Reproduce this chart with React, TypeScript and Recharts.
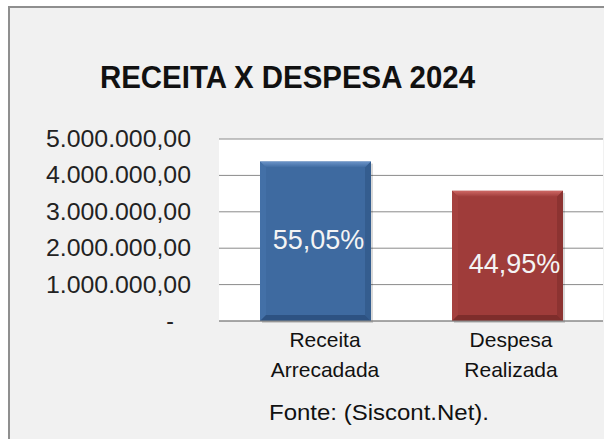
import React from "react";
import { BarChart, Bar, XAxis, YAxis, CartesianGrid } from "recharts";

const categories = ["Receita Arrecadada", "Despesa Realizada"];
const values = [4380000, 3576000];
const percentLabels = ["55,05%", "44,95%"];
const yTicks = [0, 1000000, 2000000, 3000000, 4000000, 5000000];
const yTickLabels = ["-", "1.000.000,00", "2.000.000,00", "3.000.000,00", "4.000.000,00", "5.000.000,00"];
const titleText = "RECEITA X DESPESA 2024";
const sourceText = "Fonte: (Siscont.Net).";

const data = categories.map((name, i) => ({ name, value: values[i], pct: percentLabels[i] }));

const FONT = "'Liberation Sans', Arial, sans-serif";

const palettes = [
  { base: "#3e6aa0", light: "#6a93c8", mid: "#4370a7", dark: "#345d8f", shadow: "#2d5282" },
  { base: "#9f3c3a", light: "#cd6764", mid: "#a5413f", dark: "#8c3331", shadow: "#7e2d2b" },
];
const labelOffsets = [
  { dx: 3, dy: -2 },
  { dx: 7, dy: 7 },
];
const xLabelOffsets = [10, 4];

const BevelBar = (props: any) => {
  const { x, y, width, height, index, payload } = props;
  const p = palettes[index % palettes.length];
  const b = 6;
  const off = labelOffsets[index % labelOffsets.length];
  const gid = `bevtop${index}`;
  return (
    <g>
      <defs>
        <linearGradient id={gid} x1="0" y1="0" x2="0" y2="1">
          <stop offset="0%" stopColor={p.light} />
          <stop offset="100%" stopColor={p.base} />
        </linearGradient>
      </defs>
      <rect x={x + 2} y={y + 2} width={width} height={height} fill="#000" opacity={0.15} />
      <rect x={x} y={y} width={width} height={height} fill={p.base} />
      <polygon points={`${x},${y} ${x + width},${y} ${x + width - b},${y + b} ${x + b},${y + b}`} fill={`url(#${gid})`} />
      <polygon points={`${x},${y} ${x + b},${y + b} ${x + b},${y + height - b} ${x},${y + height}`} fill={p.mid} />
      <polygon points={`${x + width},${y} ${x + width},${y + height} ${x + width - b},${y + height - b} ${x + width - b},${y + b}`} fill={p.dark} />
      <polygon points={`${x},${y + height} ${x + b},${y + height - b} ${x + width - b},${y + height - b} ${x + width},${y + height}`} fill={p.shadow} />
      <text
        x={x + width / 2 + off.dx}
        y={y + height / 2 + off.dy}
        dy="0.36em"
        textAnchor="middle"
        fontFamily={FONT}
        fontSize={27}
        fill="#f4f4f4"
      >
        {payload.pct}
      </text>
    </g>
  );
};

const YTick = (props: any) => {
  const { x, y, payload } = props;
  const idx = yTicks.indexOf(payload.value);
  const label = yTickLabels[idx];
  if (label === "-") {
    return (
      <text x={x - 17} y={y} dy={8} textAnchor="end" fontFamily={FONT} fontSize={23} fill="#222">
        {label}
      </text>
    );
  }
  return (
    <text
      x={x}
      y={y}
      dy={8}
      textAnchor="end"
      fontFamily={FONT}
      fontSize={23}
      fill="#222"
      textLength={145}
      lengthAdjust="spacingAndGlyphs"
    >
      {label}
    </text>
  );
};

const XTick = (props: any) => {
  const { x, y, payload, index } = props;
  const lines = String(payload.value).split(" ");
  const cx = x + xLabelOffsets[index % xLabelOffsets.length];
  return (
    <text x={cx} y={y} textAnchor="middle" fontFamily={FONT} fontSize={21} fill="#111">
      {lines.map((l, i) => (
        <tspan key={i} x={cx} y={y + 26 + i * 30}>
          {l}
        </tspan>
      ))}
    </text>
  );
};

export default function App() {
  return (
    <div style={{ position: "absolute", left: 0, top: 0, width: 604, height: 439, overflow: "hidden", background: "#ffffff" }}>
      <div
        style={{
          position: "absolute",
          left: 8,
          top: 6,
          width: 620,
          height: 460,
          background: "#f1f1f1",
          borderLeft: "2px solid #8f8f8f",
          borderTop: "2px solid #8f8f8f",
        }}
      />
      <div style={{ position: "absolute", left: 0, top: 0 }}>
        <BarChart width={604} height={439} data={data} margin={{ top: 139, right: 1, bottom: 0, left: 0 }}>
          <CartesianGrid vertical={false} stroke="#8a8a8a" fill="#ffffff" />
          <XAxis
            dataKey="name"
            height={118}
            axisLine={{ stroke: "#8a8a8a" }}
            tickLine={false}
            tickSize={0}
            tickMargin={0}
            tick={<XTick />}
            interval={0}
          />
          <YAxis
            width={219}
            domain={[0, 5000000]}
            ticks={yTicks}
            axisLine={false}
            tickLine={false}
            tickSize={0}
            tickMargin={28}
            tick={<YTick />}
            interval={0}
          />
          <Bar dataKey="value" barSize={111} shape={<BevelBar />} isAnimationActive={false} />
        </BarChart>
      </div>
      <svg width={604} height={439} style={{ position: "absolute", left: 0, top: 0, pointerEvents: "none" }}>
        <text
          x={287.5}
          y={88}
          textAnchor="middle"
          fontFamily={FONT}
          fontWeight="bold"
          fontSize={32}
          fill="#111"
          textLength={375}
          lengthAdjust="spacingAndGlyphs"
        >
          {titleText}
        </text>
        <text x={269} y={420} fontFamily={FONT} fontSize={22} fill="#111" textLength={220} lengthAdjust="spacingAndGlyphs">
          {sourceText}
        </text>
      </svg>
    </div>
  );
}
